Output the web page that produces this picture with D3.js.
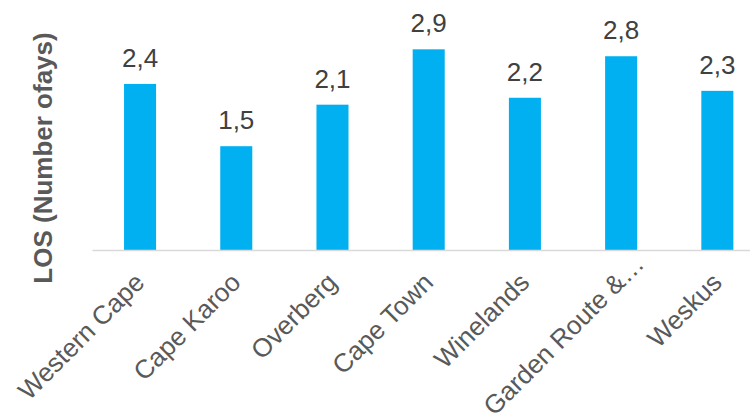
<!DOCTYPE html>
<html>
<head>
<meta charset="utf-8">
<script src="https://cdn.jsdelivr.net/npm/d3@7"></script>
<style>
  body { margin: 0; background: #fff; }
  text { font-family: Arial, "Liberation Sans", sans-serif; }
</style>
</head>
<body>
<div id="chart"></div>
<script>
// data
const regions = ["Western Cape", "Cape Karoo", "Overberg", "Cape Town", "Winelands", "Garden Route &…", "Weskus"]
const los = [2.4, 1.5, 2.1, 2.9, 2.2, 2.8, 2.3]
const yTitle = "LOS (Number ofays)"

const width = 750,
    height = 414

const svg = d3.select("#chart")
  .append("svg")
    .attr("width", width)
    .attr("height", height)

// scales
const x = d3.scaleBand()
    .domain(regions)
    .range([92, 765.4])
    .paddingInner(0.667)
    .paddingOuter(0.333)

const y = d3.scaleLinear()
    .domain([0, 3.5])
    .range([250, 250 - 3.5 * 69.2])

// comma decimal
const fmt = d3.formatLocale({decimal: ",", thousands: ".", grouping: [3], currency: ["", ""]}).format(".1f")

const data = regions.map((r, i) => ({region: r, value: los[i]}))

// bars
svg.append("g")
  .selectAll("rect")
  .data(data)
  .join("rect")
    .attr("x", d => x(d.region))
    .attr("y", d => y(d.value))
    .attr("width", x.bandwidth())
    .attr("height", d => y(0) - y(d.value))
    .attr("fill", "#00B0F0")

// value labels
svg.append("g")
  .selectAll("text")
  .data(data)
  .join("text")
    .attr("x", d => x(d.region) + x.bandwidth() / 2)
    .attr("y", d => y(d.value) - 17)
    .attr("text-anchor", "middle")
    .attr("font-size", 26)
    .attr("fill", "#404040")
    .text(d => fmt(d.value))

// category axis
const xAxis = svg.append("g")
    .attr("transform", `translate(0,${y(0)})`)
    .call(d3.axisBottom(x).tickSize(0).tickSizeOuter(0))

xAxis.select(".domain")
    .attr("stroke", "#d9d9d9")
    .attr("stroke-width", 1.5)

xAxis.selectAll(".tick text")
    .attr("x", 0)
    .attr("y", 0)
    .attr("dy", 0)
    .attr("transform", "translate(6,34) rotate(-45)")
    .attr("text-anchor", "end")
    .attr("font-size", 26)
    .attr("font-family", "Arial, 'Liberation Sans', sans-serif")
    .attr("fill", "#595959")
    .each(function(d) {
      // truncated label: ellipsis hangs past the anchor
      if (d.endsWith("…")) {
        const t = d3.select(this)
        t.text(d.slice(0, -1))
        d3.select(this.parentNode).append("text")
            .attr("transform", "translate(6,34) rotate(-45)")
            .attr("text-anchor", "start")
            .attr("font-size", 26)
            .attr("fill", "#595959")
            .text("…")
      }
    })

// y title
svg.append("text")
    .attr("transform", `translate(52,158) rotate(-90)`)
    .attr("text-anchor", "middle")
    .attr("font-size", 26)
    .attr("font-weight", "bold")
    .attr("fill", "#595959")
    .text(yTitle)
</script>
</body>
</html>
